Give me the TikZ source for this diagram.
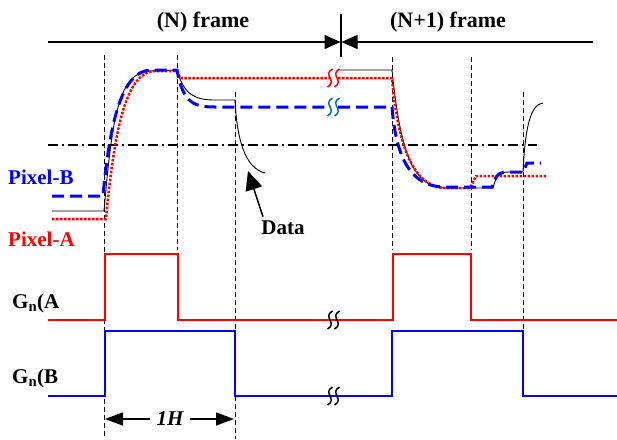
\documentclass[tikz,border=0pt]{standalone}
\usepackage{fontspec}
\setmainfont{Liberation Serif}
\usetikzlibrary{arrows.meta}
\newcommand\brkmark[3]{%
  \foreach \dx in {0,7} {\draw[#3,line width=1.5pt] ({#1+\dx+2.5},{#2-9}) .. controls ({#1+\dx-8},{#2-3}) and ({#1+\dx+8},{#2+3}) .. ({#1+\dx-2.5},{#2+9});}}
\begin{document}
\begin{tikzpicture}[x=1pt,y=-1pt,
  lbl/.style={font=\bfseries\fontsize{21}{23}\selectfont, inner sep=0pt},
  ttl/.style={font=\bfseries\fontsize{22}{24}\selectfont, inner sep=0pt},
  vdash/.style={black, line width=0.8pt, dash pattern=on 5pt off 3pt},
  gred/.style={red, line width=2.6pt},
  gblue/.style={blue, line width=2.6pt},
  thinblk/.style={black, line width=0.9pt},
  reddot/.style={red, line width=2.5pt, dash pattern=on 2.5pt off 1.5pt},
  bluedash/.style={blue, line width=3pt, dash pattern=on 12pt off 6pt},
  dashdot/.style={black, line width=1.6pt, dash pattern=on 10pt off 4pt on 2pt off 4pt},
  bigtip/.style={-{Triangle[length=16pt,width=14pt]}, line width=1.3pt},
  htip/.style={-{Triangle[length=18pt,width=13pt]}, line width=1.2pt},
]
\useasboundingbox (0,0) rectangle (617,439);
% titles and frame arrows
\node[ttl] (tN) at (203,22) {(N) frame};
\node[ttl] (tN1) at (448,22) {(N+1) frame};
\coordinate (aL) at (48,42);
\coordinate (aM) at (341,42);
\coordinate (aR) at (593,42);
\coordinate (tkT) at (341,14);
\coordinate (tkB) at (341,57);
\draw[bigtip] (aL) -- ([xshift=-0.5pt]aM);
\draw[bigtip] (aR) -- ([xshift=0.5pt]aM);
\draw[line width=1.2pt] (tkT) -- (tkB);
% vertical dashed guides
\draw[vdash] (104,55) -- (104,439);
\draw[vdash] (177,55) -- (177,250);
\draw[vdash] (235,92) -- (235,439);
\draw[vdash] (392,57) -- (392,250);
\draw[vdash] (471,57) -- (471,250);
\draw[vdash] (523,92) -- (523,330);
% threshold
\draw[dashdot] (48,145) -- (537,145);
% black thin response
\draw[thinblk] (52,211) -- (104,211) .. controls (112,120) and (118,72) .. (150,71) -- (177,70)
  .. controls (184,95) and (195,100) .. (215,100) -- (235,100);
\draw[thinblk] (235,100) .. controls (237,140) and (245,168) .. (265,173);
\draw[thinblk] (340,70) -- (392,70) .. controls (400,150) and (412,187) .. (445,188) -- (493,188)
  .. controls (497,173) and (500,172) .. (510,172) -- (523,172)
  .. controls (525,130) and (530,104) .. (543,103);
% red dotted (pixel A)
\draw[reddot] (52,219) -- (106,219) .. controls (115,120) and (128,72) .. (155,71) -- (177,71) -- (180,78) -- (331,78);
\draw[reddot] (338,78) -- (392,78) .. controls (398,150) and (415,187) .. (445,188) -- (470,188) -- (476,176) -- (546,176);
% blue dashed (pixel B)
\draw[bluedash] (52,196) -- (103,196) .. controls (110,120) and (122,72) .. (150,70) -- (177,70)
  .. controls (183,104) and (195,107) .. (215,107) -- (331,107);
\draw[bluedash] (338,107) -- (392,107) .. controls (396,160) and (412,187) .. (445,187) -- (492,187)
  .. controls (497,172) and (500,172) .. (510,172) -- (523,172) -- (527,163) -- (541,163);
\brkmark{330}{78}{red}
\brkmark{330}{107}{teal}
% labels
\node[lbl, blue, anchor=west] (pB) at (8,177) {Pixel-B};
\node[lbl, red, anchor=west] (pA) at (8,239) {Pixel-A};
\node[lbl] (dat) at (283,228) {Data};
\coordinate (dtip) at (248,171);
\draw[-{Triangle[length=19pt,width=17pt]}, line width=1.5pt] (dat.north) ++(-20,-4) -- (dtip);
% gate signals
\draw[gred] (48,320) -- (105,320) -- (105,254) -- (178,254) -- (178,320) -- (393,320)
  -- (393,254) -- (471,254) -- (471,320) -- (617,320);
\draw[gblue] (48,396) -- (105,396) -- (105,331) -- (235,331) -- (235,396) -- (392,396)
  -- (392,331) -- (523,331) -- (523,396) -- (617,396);
\brkmark{330}{320}{black}
\brkmark{330}{396}{black}
\node[lbl, anchor=west] (gA) at (12,303) {G\textsubscript{n}(A};
\node[lbl, anchor=west] (gB) at (12,378) {G\textsubscript{n}(B};
% 1H
\node[lbl, font=\bfseries\itshape\fontsize{21}{23}\selectfont] (oneH) at (170,419) {1H};
\coordinate (hL) at (105,419);
\coordinate (hR) at (234,419);
\draw[htip] ([xshift=-6pt]oneH.west) -- (hL);
\draw[htip] ([xshift=6pt]oneH.east) -- (hR);
\end{tikzpicture}
\end{document}
